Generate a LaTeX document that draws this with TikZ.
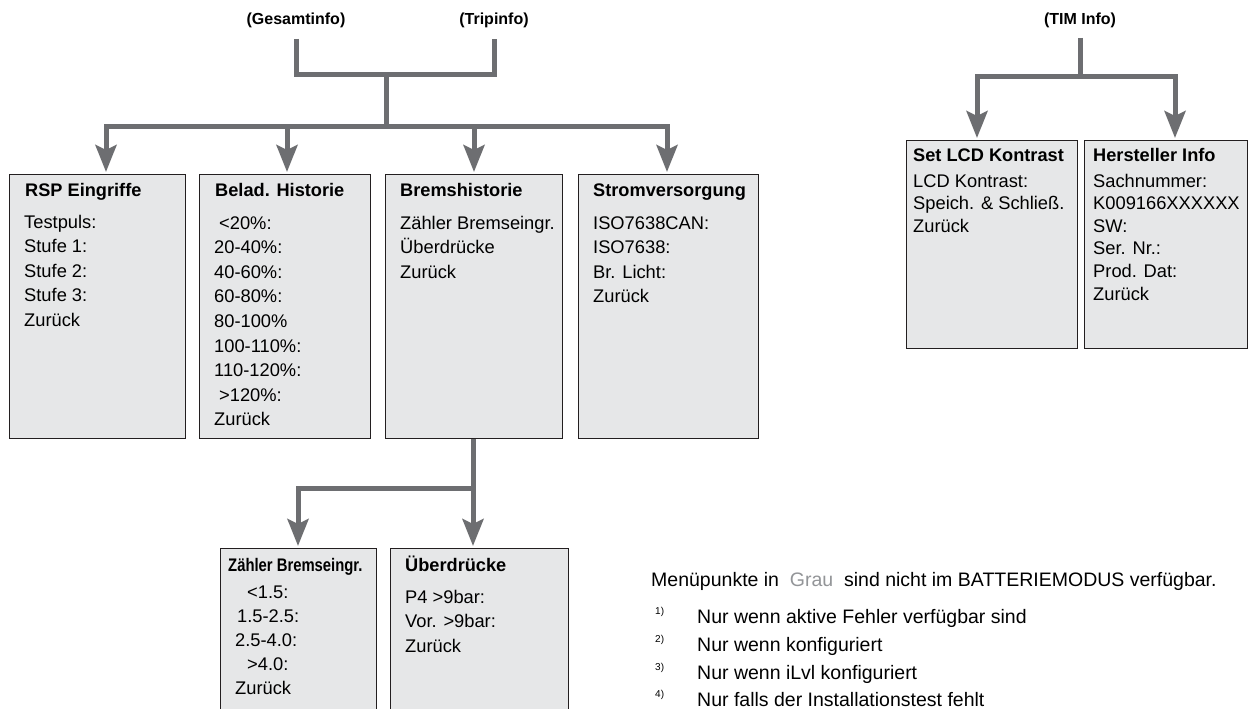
\documentclass[tikz,border=0pt]{standalone}
\usepackage{fontspec}
\setmainfont{Liberation Sans}
\usetikzlibrary{arrows.meta,calc}
\definecolor{boxfill}{HTML}{E6E7E8}
\definecolor{conn}{HTML}{6D6E71}
\definecolor{boxline}{HTML}{231F20}
\definecolor{graytext}{HTML}{939598}
\newcommand{\menulines}[1]{\parbox[t]{200pt}{\raggedright #1}}
\begin{document}
\begin{tikzpicture}[x=1pt,y=-1pt,
  menubox/.style={draw=boxline, fill=boxfill, line width=1.2pt, anchor=north west, inner sep=0pt},
  connline/.style={draw=conn, line width=5pt},
  connbar/.style={connline, line cap=rect},
  connarrow/.style={connline, -{Stealth[length=27pt,width=21pt,inset=5pt]}},
  boxtitle/.style={anchor=base west, inner sep=0pt, font=\bfseries\fontsize{18.2}{22}\selectfont},
  boxbody/.style={anchor=base west, inner sep=0pt, font=\fontsize{18.3}{24.6}\selectfont},
  timbody/.style={boxbody, font=\fontsize{18.3}{22.6}\selectfont},
  subbody/.style={boxbody, font=\fontsize{18.3}{24}\selectfont},
  toplabel/.style={inner sep=0pt, font=\bfseries\fontsize{16}{18}\selectfont},
  notetext/.style={anchor=base west, inner sep=0pt, font=\fontsize{19.5}{22}\selectfont},
  notemark/.style={anchor=base west, inner sep=0pt, font=\fontsize{10}{12}\selectfont},
]
\useasboundingbox (0,0) rectangle (1248,709);
\fill[white] (0,0) rectangle (1248,709);

% boxes
\node[menubox, minimum width=176pt, minimum height=264pt] (rsp) at (9,174) {};
\node[menubox, minimum width=171pt, minimum height=264pt] (belad) at (199,174) {};
\node[menubox, minimum width=177pt, minimum height=264pt] (brems) at (385,174) {};
\node[menubox, minimum width=180pt, minimum height=264pt] (strom) at (578,174) {};
\node[menubox, minimum width=171pt, minimum height=208pt] (lcd) at (906,140) {};
\node[menubox, minimum width=163pt, minimum height=208pt] (herst) at (1084,140) {};
\node[menubox, minimum width=156pt, minimum height=175pt] (zaehler) at (220,548) {};
\node[menubox, minimum width=178pt, minimum height=175pt] (ueber) at (390,548) {};

% top labels
\node[toplabel] (ges) at (296,20) {(Gesamtinfo)};
\node[toplabel] (trip) at (494,20) {(Tripinfo)};
\node[toplabel] (tim) at (1080,20) {(TIM Info)};

% main connectors
\coordinate (j1) at (386,75);
\coordinate (j2) at (386,126);
\coordinate (a1) at (106,126);
\coordinate (a2) at (287,126);
\coordinate (a3) at (474,126);
\coordinate (a4) at (667,126);
\draw[connline] ($(ges.center)+(0,19)$) -- (ges.center |- j1) -- (trip.center |- j1) -- ($(trip.center)+(0,19)$);
\draw[connline] (j1) -- (j2);
\draw[connbar] (a1) -- (a4);
\draw[connarrow, shorten >=2pt] (a1) -- (a1 |- rsp.north);
\draw[connarrow, shorten >=2pt] (a2) -- (a2 |- belad.north);
\draw[connarrow, shorten >=2pt] (a3) -- (a3 |- brems.north);
\draw[connarrow, shorten >=2pt] (a4) -- (a4 |- strom.north);

% TIM connectors
\coordinate (t1) at (1080,77);
\coordinate (t2) at (977,77);
\coordinate (t3) at (1175,77);
\draw[connline] ($(tim.center)+(0,18)$) -- (t1);
\draw[connbar] (t2) -- (t3);
\draw[connarrow, shorten >=2pt] (t2) -- (t2 |- lcd.north);
\draw[connarrow, shorten >=2pt] (t3) -- (t3 |- herst.north);

% Bremshistorie sub connectors
\coordinate (s0) at (473,488);
\coordinate (s1) at (298,488);
\draw[connline] (brems.south -| s0) -- (s0);
\draw[connbar] (s1) -- (s0);
\draw[connarrow, shorten >=2pt] (s1) -- (s1 |- zaehler.north);
\draw[connarrow, shorten >=2pt] (s0) -- (s0 |- ueber.north);

% box texts
\node[boxtitle] (rspT) at (25,196.5) {RSP Eingriffe};
\node[boxbody] (rspB) at (24,228) {\menulines{Testpuls:\\Stufe 1:\\Stufe 2:\\Stufe 3:\\Zurück}};

\node[boxtitle] (beladT) at (215,196.5) {Belad. Historie};
\node[boxbody] (beladB) at (214,229) {\menulines{\hspace*{5pt}<20\%:\\20-40\%:\\40-60\%:\\60-80\%:\\80-100\%\\100-110\%:\\110-120\%:\\\hspace*{5pt}>120\%:\\Zurück}};

\node[boxtitle] (bremsT) at (400,196.5) {Bremshistorie};
\node[boxbody] (bremsB) at (400,229) {\menulines{Zähler Bremseingr.\\Überdrücke\\Zurück}};

\node[boxtitle] (stromT) at (593,196.5) {Stromversorgung};
\node[boxbody] (stromB) at (593,229) {\menulines{ISO7638CAN:\\ISO7638:\\Br. Licht:\\Zurück}};

\node[boxtitle] (lcdT) at (913,161.5) {Set LCD Kontrast};
\node[timbody] (lcdB) at (913,187) {\menulines{LCD Kontrast:\\Speich. \& Schließ.\\Zurück}};

\node[boxtitle] (herstT) at (1093,161.5) {Hersteller Info};
\node[timbody] (herstB) at (1093,187) {\menulines{Sachnummer:\\K009166XXXXXX\\SW:\\Ser. Nr.:\\Prod. Dat:\\Zurück}};

\node[boxtitle] (zaehlerT) at (228,571.5) {\scalebox{0.815}[1]{Zähler Bremseingr.}};
\node[subbody] (zaehlerB) at (235,598) {\menulines{\hspace*{12pt}<1.5:\\\hspace*{2pt}1.5-2.5:\\2.5-4.0:\\\hspace*{12pt}>4.0:\\Zurück}};

\node[boxtitle] (ueberT) at (405,571.5) {Überdrücke};
\node[boxbody] (ueberB) at (405,603) {\menulines{P4 >9bar:\\Vor. >9bar:\\Zurück}};

% notes
\node[notetext] (n0) at (651,586) {Menüpunkte in \ \textcolor{graytext}{Grau} \ sind nicht im BATTERIEMODUS verfügbar.};
\node[notemark] (m1) at (655,614) {1)};
\node[notetext] (n1) at (697,623) {Nur wenn aktive Fehler verfügbar sind};
\node[notemark] (m2) at (655,642) {2)};
\node[notetext] (n2) at (697,651) {Nur wenn konfiguriert};
\node[notemark] (m3) at (655,670) {3)};
\node[notetext] (n3) at (697,679) {Nur wenn iLvl konfiguriert};
\node[notemark] (m4) at (655,697) {4)};
\node[notetext] (n4) at (697,706) {Nur falls der Installationstest fehlt};
\end{tikzpicture}
\end{document}
